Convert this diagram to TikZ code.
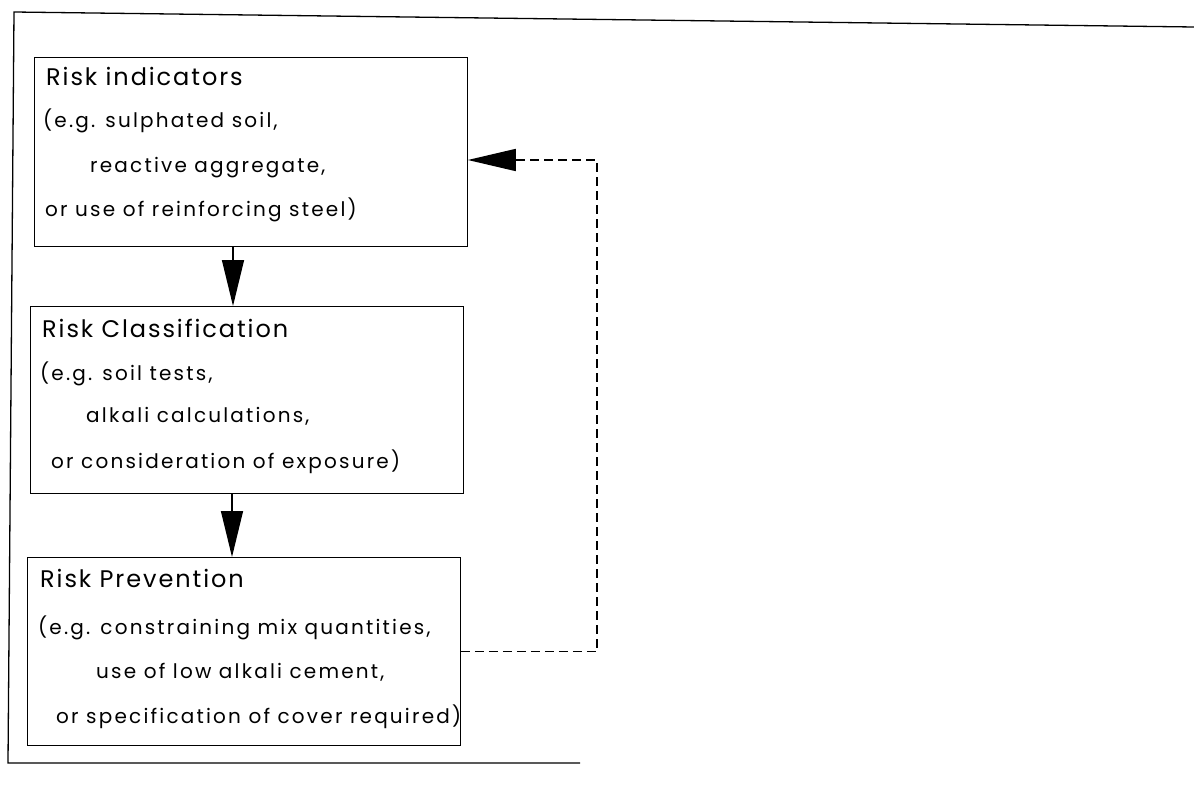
\documentclass[tikz,border=0pt]{standalone}
\usepackage{fontspec}
\setmainfont{Poppins}
\usetikzlibrary{arrows.meta}
\tikzset{
  frame/.style={line width=1.3pt},
  box/.style={draw, line width=0.8pt, rectangle, inner sep=0pt},
  txt/.style={inner sep=0pt, font=\fontsize{20}{20}\selectfont\addfontfeatures{LetterSpace=11}},
  head/.style={inner sep=0pt, font=\fontsize{24}{24}\selectfont\addfontfeatures{LetterSpace=8}},
  flow/.style={line width=1.4pt, -{Triangle[length=46pt,width=22pt]}},
  feedback/.style={line width=1.6pt, dash pattern=on 9pt off 5pt, -{Triangle[length=48pt,width=22pt]}}
}
\begin{document}
\begin{tikzpicture}[x=1pt,y=-1pt]
\useasboundingbox (0,0) rectangle (1194,789);
% outer frame (open on the right)
\coordinate (ftl) at (14,12);
\coordinate (ftr) at (1194,27);
\coordinate (fbl) at (8,763);
\coordinate (fbr) at (580,763);
\draw[frame] (ftr) -- (ftl) -- (fbl) -- (fbr);

% step boxes
\node[box, anchor=north west, minimum width=433pt, minimum height=189pt] (ind) at (34,57) {};
\node[box, anchor=north west, minimum width=433pt, minimum height=187pt] (cls) at (30,306) {};
\node[box, anchor=north west, minimum width=433pt, minimum height=188pt] (prev) at (27,557) {};

% box texts
\node[head, anchor=base west] (ind1) at (46,86) {Risk indicators};
\node[txt, anchor=base west] (ind2) at (43,128) {(e.g. sulphated soil,};
\node[txt, anchor=base west] (ind3) at (90,172) {reactive aggregate,};
\node[txt, anchor=base west] (ind4) at (45,216) {or use of reinforcing steel)};

\node[head, anchor=base west] (cls1) at (42,337) {Risk Classification};
\node[txt, anchor=base west] (cls2) at (40,380) {(e.g. soil tests,};
\node[txt, anchor=base west] (cls3) at (86,422) {alkali calculations,};
\node[txt, anchor=base west] (cls4) at (51,468) {or consideration of exposure)};

\node[head, anchor=base west] (prev1) at (40,587) {Risk Prevention};
\node[txt, anchor=base west] (prev2) at (38,634) {(e.g. constraining mix quantities,};
\node[txt, anchor=base west] (prev3) at (96,678) {use of low alkali cement,};
\node[txt, anchor=base west] (prev4) at (56,723) {or specification of cover required)};

% downward flow
\coordinate (c1) at (233,0);
\coordinate (c2) at (232,0);
\draw[flow] (ind.south -| c1) -- (cls.north -| c1);
\draw[flow] (cls.south -| c2) -- (prev.north -| c2);

% dashed feedback loop
\coordinate (fbtop) at (597,160);
\draw[feedback] (prev.east) -| (fbtop) -- (ind.east |- fbtop);
\end{tikzpicture}
\end{document}
